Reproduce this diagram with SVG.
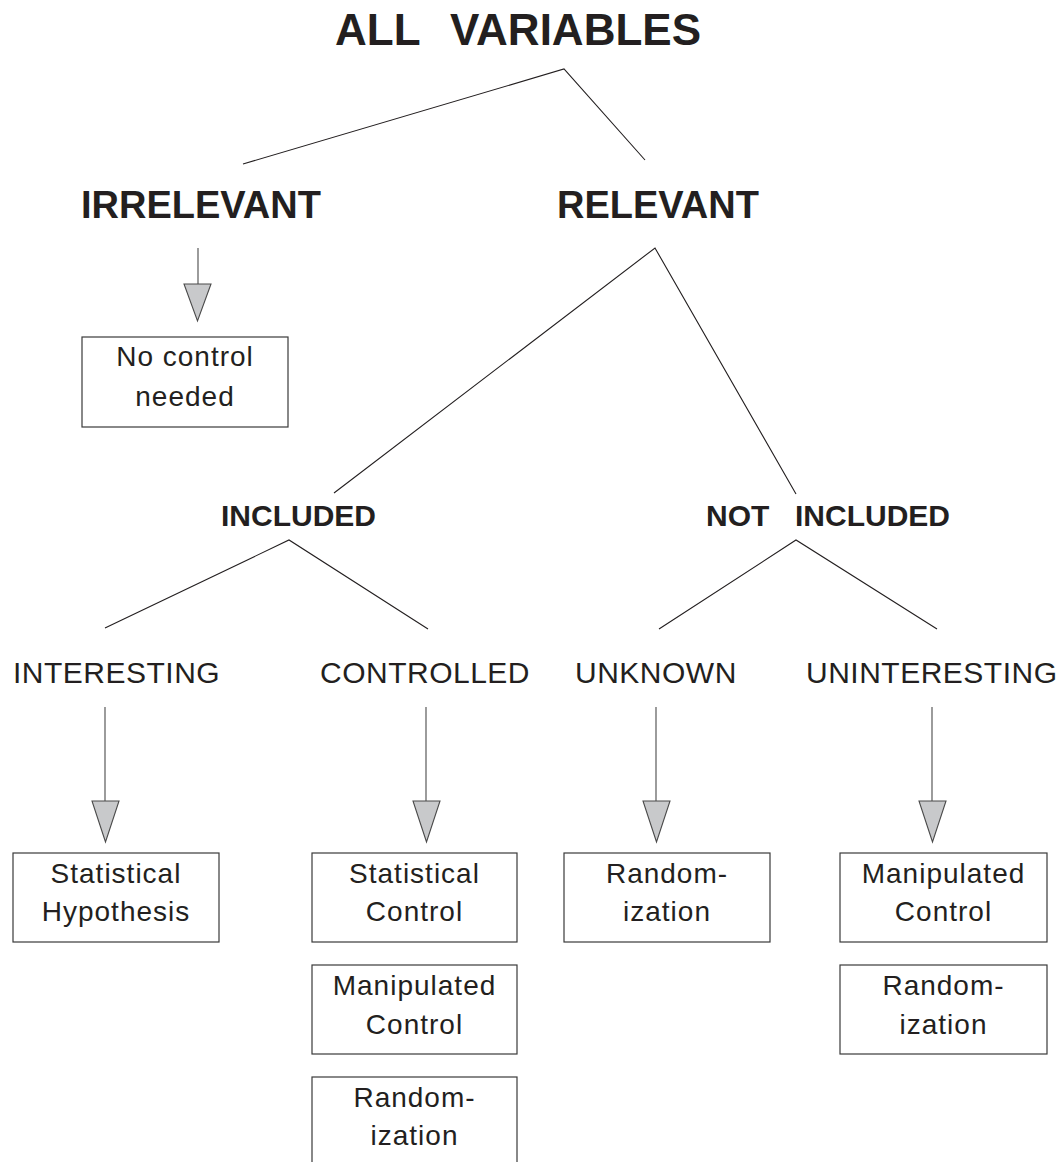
<svg xmlns="http://www.w3.org/2000/svg" width="1064" height="1162" viewBox="0 0 1064 1162">
  <style>
    .bg { fill: #ffffff; }
    .hd { font-family: "Liberation Sans", Arial, sans-serif; font-weight: bold; fill: #231f20; }
    .lbl { font-family: "Liberation Sans", Arial, sans-serif; font-size: 30px; letter-spacing: 0.5px; fill: #231f20; }
    .box rect { fill: #ffffff; stroke: #3a3a3a; stroke-width: 1.2; }
    .box text { font-family: "Liberation Sans", Arial, sans-serif; font-size: 28px; letter-spacing: 1px; fill: #231f20; text-anchor: middle; }
    .branch { stroke: #231f20; stroke-width: 1.1; fill: none; }
    .stem { stroke: #4a4a4a; stroke-width: 1.1; fill: none; }
    .head { fill: #c8c9cb; stroke: #4a4a4a; stroke-width: 1.1; stroke-linejoin: miter; }
  </style>
  <rect class="bg" x="0" y="0" width="1064" height="1162"/>

  <!-- tree branches and arrows -->
  <g id="connectors">
    <polyline class="branch" points="243,164 564,69 645,160"/>
    <polyline class="branch" points="334,493 655,248 796,494"/>
    <polyline class="branch" points="105,628 289,540 428,629"/>
    <polyline class="branch" points="659,629 796,540 937,629"/>

    <line class="stem" x1="198" y1="248" x2="198" y2="284"/>
    <polygon class="head" points="184,284 211,284 197.5,321"/>

    <line class="stem" x1="105" y1="707" x2="105" y2="801"/>
    <polygon class="head" points="92,801 119,801 105.5,842"/>

    <line class="stem" x1="426" y1="707" x2="426" y2="801"/>
    <polygon class="head" points="413,801 440,801 426.5,842"/>

    <line class="stem" x1="656" y1="707" x2="656" y2="801"/>
    <polygon class="head" points="643,801 670,801 656.5,842"/>

    <line class="stem" x1="932" y1="707" x2="932" y2="801"/>
    <polygon class="head" points="919,801 946,801 932.5,842"/>
  </g>

  <!-- headings -->
  <g id="all-variables">
    <text class="hd" font-size="44" y="45"><tspan x="335">ALL</tspan><tspan x="450">VARIABLES</tspan></text>
  </g>
  <g id="irrelevant">
    <text class="hd" font-size="38" x="81" y="218">IRRELEVANT</text>
  </g>
  <g id="relevant">
    <text class="hd" font-size="38" x="557" y="218">RELEVANT</text>
  </g>
  <g id="included">
    <text class="hd" font-size="30" x="221" y="526">INCLUDED</text>
  </g>
  <g id="not-included">
    <text class="hd" font-size="30" y="526"><tspan x="706">NOT</tspan><tspan x="795">INCLUDED</tspan></text>
  </g>

  <!-- third-level categories -->
  <g id="interesting"><text class="lbl" x="13" y="683">INTERESTING</text></g>
  <g id="controlled"><text class="lbl" x="320" y="683">CONTROLLED</text></g>
  <g id="unknown"><text class="lbl" x="575" y="683">UNKNOWN</text></g>
  <g id="uninteresting"><text class="lbl" x="806" y="683">UNINTERESTING</text></g>

  <!-- outcome boxes -->
  <g id="no-control" class="box">
    <rect x="82" y="337" width="206" height="90"/>
    <text x="185" y="366">No control</text>
    <text x="185" y="406">needed</text>
  </g>
  <g id="stat-hypothesis" class="box">
    <rect x="13" y="853" width="206" height="89"/>
    <text x="116" y="883">Statistical</text>
    <text x="116" y="921">Hypothesis</text>
  </g>
  <g id="stat-control" class="box">
    <rect x="312" y="853" width="205" height="89"/>
    <text x="414.5" y="883">Statistical</text>
    <text x="414.5" y="921">Control</text>
  </g>
  <g id="manip-control-included" class="box">
    <rect x="312" y="965" width="205" height="89"/>
    <text x="414.5" y="995">Manipulated</text>
    <text x="414.5" y="1034">Control</text>
  </g>
  <g id="random-included" class="box">
    <rect x="312" y="1077" width="205" height="100"/>
    <text x="414.5" y="1107">Random-</text>
    <text x="414.5" y="1145">ization</text>
  </g>
  <g id="random-unknown" class="box">
    <rect x="564" y="853" width="206" height="89"/>
    <text x="667" y="883">Random-</text>
    <text x="667" y="921">ization</text>
  </g>
  <g id="manip-control-uninteresting" class="box">
    <rect x="840" y="853" width="207" height="89"/>
    <text x="943.5" y="883">Manipulated</text>
    <text x="943.5" y="921">Control</text>
  </g>
  <g id="random-uninteresting" class="box">
    <rect x="840" y="965" width="207" height="89"/>
    <text x="943.5" y="995">Random-</text>
    <text x="943.5" y="1034">ization</text>
  </g>
</svg>
